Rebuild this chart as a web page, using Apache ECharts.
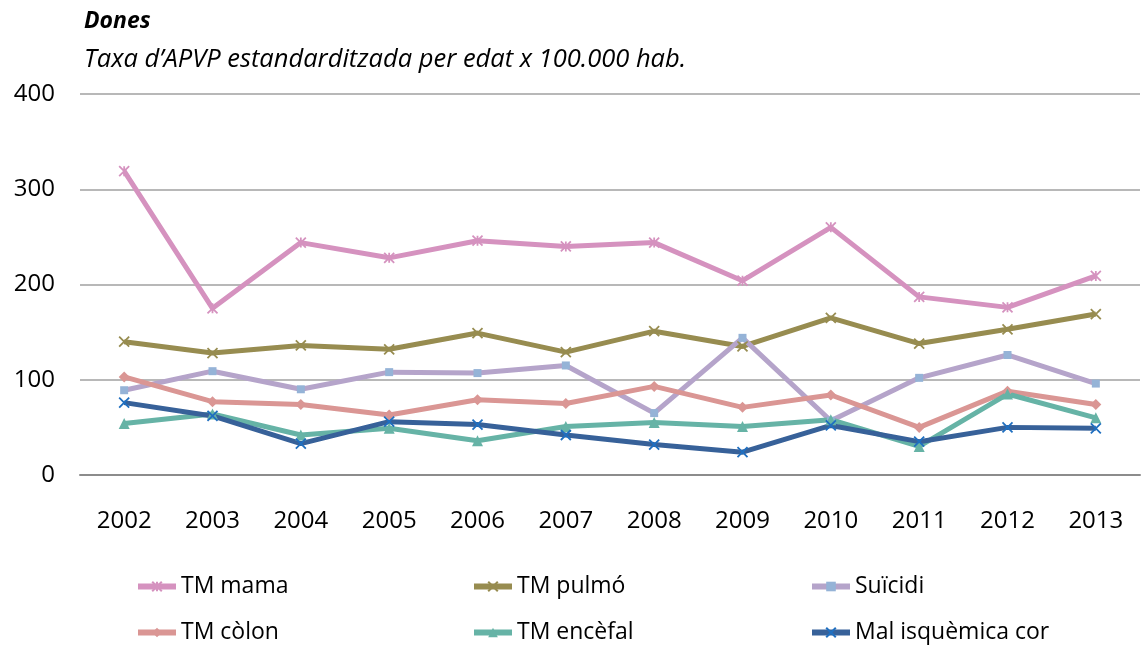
<!DOCTYPE html>
<html>
<head>
<meta charset="utf-8">
<script src="https://cdn.jsdelivr.net/npm/echarts@6/dist/echarts.min.js"></script>
<style>
html, body { margin: 0; padding: 0; background: #fff; }
#chartContainer { width: 1143px; height: 648px; }
</style>
</head>
<body>
<div id="chartContainer"></div>
<script>
var years = ['2002', '2003', '2004', '2005', '2006', '2007', '2008', '2009', '2010', '2011', '2012', '2013'];
var tmMama = [319, 175, 244, 228, 246, 240, 244, 204, 260, 187, 176, 209];
var tmPulmo = [140, 128, 136, 132, 149, 129, 151, 135, 165, 138, 153, 169];
var suicidi = [89, 109, 90, 108, 107, 115, 65, 144, 57, 102, 126, 96];
var tmColon = [103, 77, 74, 63, 79, 75, 93, 71, 84, 50, 88, 74];
var tmEncefal = [54, 64, 42, 49, 36, 51, 55, 51, 58, 30, 85, 60];
var malIsquemica = [76, 62, 33, 56, 53, 42, 32, 24, 52, 35, 50, 49];
var yTicks = [0, 100, 200, 300, 400];

var FONT = '"Open Sans", sans-serif';
var xMark = 'path://M0,0L10,10M10,0L0,10';
var starMark = 'path://M0,0L10,10M10,0L0,10M5,0L5,10';

function line(name, data, color, symbol, size, markColor, filled) {
    return {
        name: name,
        type: 'line',
        data: data,
        symbol: symbol,
        symbolSize: size,
        showAllSymbol: true,
        lineStyle: {color: color, width: 5},
        itemStyle: filled
            ? {color: markColor, borderColor: markColor, borderWidth: 0}
            : {color: 'rgba(0,0,0,0)', borderColor: markColor, borderWidth: 1.8},
        emphasis: {disabled: true},
        animation: false
    };
}

var names = ['TM mama', 'TM pulmó', 'Suïcidi', 'TM còlon', 'TM encèfal', 'Mal isquèmica cor'];
var legLeft = [135, 471, 809, 135, 471, 809];
var legTop = [575, 575, 575, 621, 621, 621];
var legends = [];
for (var i = 0; i < names.length; i++) {
    legends.push({
        data: [names[i]],
        left: legLeft[i],
        top: legTop[i],
        itemWidth: 38,
        itemHeight: 12,
        padding: 0,
        selectedMode: false,
        lineStyle: {width: 6},
        textStyle: {fontFamily: FONT, fontSize: 23, color: '#000', padding: [0, 0, 0, 0]}
    });
}

var chart = echarts.init(document.getElementById('chartContainer'));
var option = {
    backgroundColor: '#fff',
    textStyle: {fontFamily: FONT},
    title: [
        {text: 'Dones', left: 79, top: 5, textStyle: {fontFamily: FONT, fontSize: 23, fontWeight: 'bold', fontStyle: 'italic', color: '#000'}},
        {text: 'Taxa d\u2019APVP estandarditzada per edat x 100.000 hab.', left: 79, top: 42, textStyle: {fontFamily: FONT, fontSize: 25.5, fontWeight: 'normal', fontStyle: 'italic', color: '#000'}}
    ],
    legend: legends,
    grid: {left: 80, right: 3, top: 94, bottom: 173, containLabel: false},
    xAxis: {
        type: 'category',
        data: years,
        boundaryGap: true,
        axisLine: {lineStyle: {color: '#8c8c8c', width: 2}},
        axisTick: {show: false},
        axisLabel: {fontFamily: FONT, fontSize: 24, color: '#000', margin: 34}
    },
    yAxis: {
        type: 'value',
        min: yTicks[0],
        max: yTicks[yTicks.length - 1],
        interval: 100,
        axisLine: {show: false},
        axisTick: {show: false},
        splitLine: {lineStyle: {color: '#a0a0a0', width: 1.5}},
        axisLabel: {fontFamily: FONT, fontSize: 24, color: '#000', margin: 25}
    },
    series: [
        line(names[0], tmMama, '#D592BF', starMark, 10, '#D592BF', false),
        line(names[1], tmPulmo, '#978C50', xMark, 10, '#978C50', false),
        line(names[2], suicidi, '#B5A4CA', 'rect', 8, '#95B3D7', true),
        line(names[3], tmColon, '#DA9694', 'diamond', 11, '#DA9694', true),
        line(names[4], tmEncefal, '#66B3A6', 'triangle', 11, '#66B3A6', true),
        line(names[5], malIsquemica, '#376199', xMark, 10, '#1F6FC0', false)
    ]
};
chart.setOption(option);
</script>
</body>
</html>
